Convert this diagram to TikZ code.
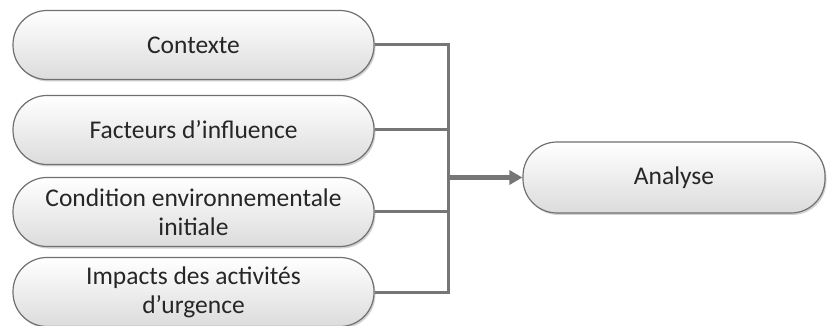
\documentclass[tikz,border=0pt]{standalone}
\usepackage{fontspec}
\setmainfont{Carlito}
\usetikzlibrary{arrows.meta,shadows}
\definecolor{edgegray}{HTML}{707070}
\definecolor{linegray}{HTML}{767676}
\definecolor{fillbottom}{HTML}{DCDCDC}
\tikzset{
  pill/.style={draw=edgegray, line width=1.2pt, rounded corners=34pt,
    top color=white, bottom color=fillbottom, shading angle=0,
    minimum height=69pt, inner sep=0pt, align=center,
    font=\fontsize{25.5}{29}\selectfont, text=black!85,
    drop shadow={shadow xshift=1.5pt, shadow yshift=-2pt, fill=black!35, opacity=0.5}},
  link/.style={draw=linegray, line width=3pt},
  feed/.style={draw=linegray, line width=4.5pt, -{Triangle[length=13pt,width=14pt]}}
}
\begin{document}
\begin{tikzpicture}[x=1pt,y=-1pt]
  \useasboundingbox (0,0) rectangle (828,326);
  % input boxes
  \node[pill, minimum width=361pt] (ctx) at (193.5,45) {Contexte};
  \node[pill, minimum width=361pt] (fac) at (193.5,130) {Facteurs d’influence};
  \node[pill, minimum width=361pt] (cond) at (193.5,212) {Condition environnementale\\initiale};
  \node[pill, minimum width=361pt] (imp) at (193.5,292) {Impacts des activités\\d’urgence};
  % result box
  \node[pill, minimum width=302pt, minimum height=71pt] (ana) at (674,177.5) {Analyse};
  % collector bar
  \coordinate (bartop) at (448,45);
  \coordinate (barbot) at (448,292);
  \coordinate (barmid) at (448,177.5);
  \draw[link] (ctx.east) -- (ctx.east -| bartop) -- (barbot) -- (imp.east);
  \draw[link] (fac.east) -- (fac.east -| bartop);
  \draw[link] (cond.east) -- (cond.east -| bartop);
  \draw[feed] (barmid) -- (ana.west);
\end{tikzpicture}
\end{document}
